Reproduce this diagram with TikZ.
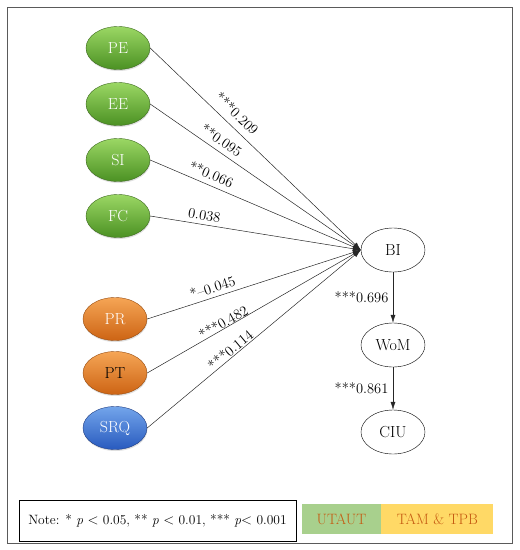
\documentclass[tikz,border=0pt]{standalone}
\usepackage{fontspec}
\definecolor{greentop}{RGB}{155, 215, 100}
\definecolor{greenbot}{RGB}{75, 145, 35}
\definecolor{greendraw}{RGB}{60, 105, 30}
\definecolor{orangetop}{RGB}{245, 165, 85}
\definecolor{orangebot}{RGB}{205, 100, 20}
\definecolor{orangedraw}{RGB}{150, 75, 15}
\definecolor{bluetop}{RGB}{115, 165, 235}
\definecolor{bluebot}{RGB}{40, 90, 190}
\definecolor{bluedraw}{RGB}{30, 60, 130}
\definecolor{utautgreen}{RGB}{168, 208, 141}
\definecolor{tamyellow}{RGB}{255, 217, 102}
\definecolor{legendtext}{RGB}{197, 90, 17}
\definecolor{framegray}{RGB}{90, 90, 90}
\usepackage{tikz}
\usetikzlibrary{shapes.geometric, arrows.meta, positioning, shadows}

\tikzset{
  construct/.style={ellipse, thin, minimum width=64pt, minimum height=43pt, inner sep=0pt, font=\fontsize{16}{18}\selectfont, drop shadow={opacity=0.25, shadow xshift=0.5pt, shadow yshift=-1.5pt}},
  utautnode/.style={construct, draw=greendraw, top color=greentop, bottom color=greenbot, text=white},
  tamnode/.style={construct, draw=orangedraw, top color=orangetop, bottom color=orangebot, text=white},
  srqnode/.style={construct, draw=bluedraw, top color=bluetop, bottom color=bluebot, text=white},
  outcome/.style={ellipse, draw=black, thin, fill=white, minimum width=64pt, minimum height=44pt, inner sep=0pt, font=\fontsize{16}{18}\selectfont},
  pathline/.style={draw=black!85, line width=0.5pt, -{Latex[length=8pt,width=5pt]}},
  coef/.style={sloped, inner sep=1pt, font=\fontsize{14.5}{16}\selectfont},
  legendbox/.style={minimum height=30pt, inner sep=0pt, text=legendtext, font=\fontsize{15}{17}\selectfont}
}

\begin{document}
\begin{tikzpicture}[x=1pt, y=-1pt]
      \useasboundingbox (0,0) rectangle (520,550);
      \draw[framegray, line width=0.9pt] (7,7) rectangle (512,543);

      % antecedents
      \node (pe) [utautnode] at (118,48) {PE};
      \node (ee) [utautnode] at (118,104) {EE};
      \node (si) [utautnode] at (118,160) {SI};
      \node (fc) [utautnode] at (118,216) {FC};
      \node (pr) [tamnode] at (115,319) {PR};
      \node (pt) [tamnode, text=black] at (115,373) {PT};
      \node (srq) [srqnode] at (115,428) {SRQ};

      % outcomes
      \node (bi) [outcome] at (393,250) {BI};
      \node (wom) [outcome] at (393,345) {WoM};
      \node (ciu) [outcome] at (393,432) {CIU};

      \draw[pathline] (pe.east) -- (bi.west) node[coef, above=6pt, pos=0.37] {***0.209};
      \draw[pathline] (ee.east) -- (bi.west) node[coef, above=4pt, pos=0.31] {**0.095};
      \draw[pathline] (si.east) -- (bi.west) node[coef, above=4pt, pos=0.27] {**0.066};
      \draw[pathline] (fc.east) -- (bi.west) node[coef, above=3pt, pos=0.25] {0.038};
      \draw[pathline] (pr.east) -- (bi.west) node[coef, above=3pt, pos=0.32] {*--0.045};
      \draw[pathline] (pt.east) -- (bi.west) node[coef, above=-1pt, pos=0.37] {***0.482};
      \draw[pathline] (srq.east) -- (bi.west) node[coef, above=0pt, pos=0.41] {***0.114};
      \draw[pathline] (bi) -- (wom) node[midway, left=1pt, font=\fontsize{14.5}{16}\selectfont] {***0.696};
      \draw[pathline] (wom) -- (ciu) node[midway, left=1pt, font=\fontsize{14.5}{16}\selectfont] {***0.861};

      % legend
      \node (note) [draw=black, thin, minimum width=277pt, minimum height=41pt, inner sep=0pt, font=\fontsize{13.5}{15}\selectfont] at (157.5,520.5) {Note: * \textit{p} $<$ 0.05, ** \textit{p} $<$ 0.01, *** \textit{p}$<$ 0.001};
      \node (utaut) [legendbox, fill=utautgreen, minimum width=79pt] at (341.5,519) {UTAUT};
      \node (tam) [legendbox, fill=tamyellow, minimum width=112pt, right=0pt of utaut] {TAM \& TPB};
    \end{tikzpicture}
\end{document}
